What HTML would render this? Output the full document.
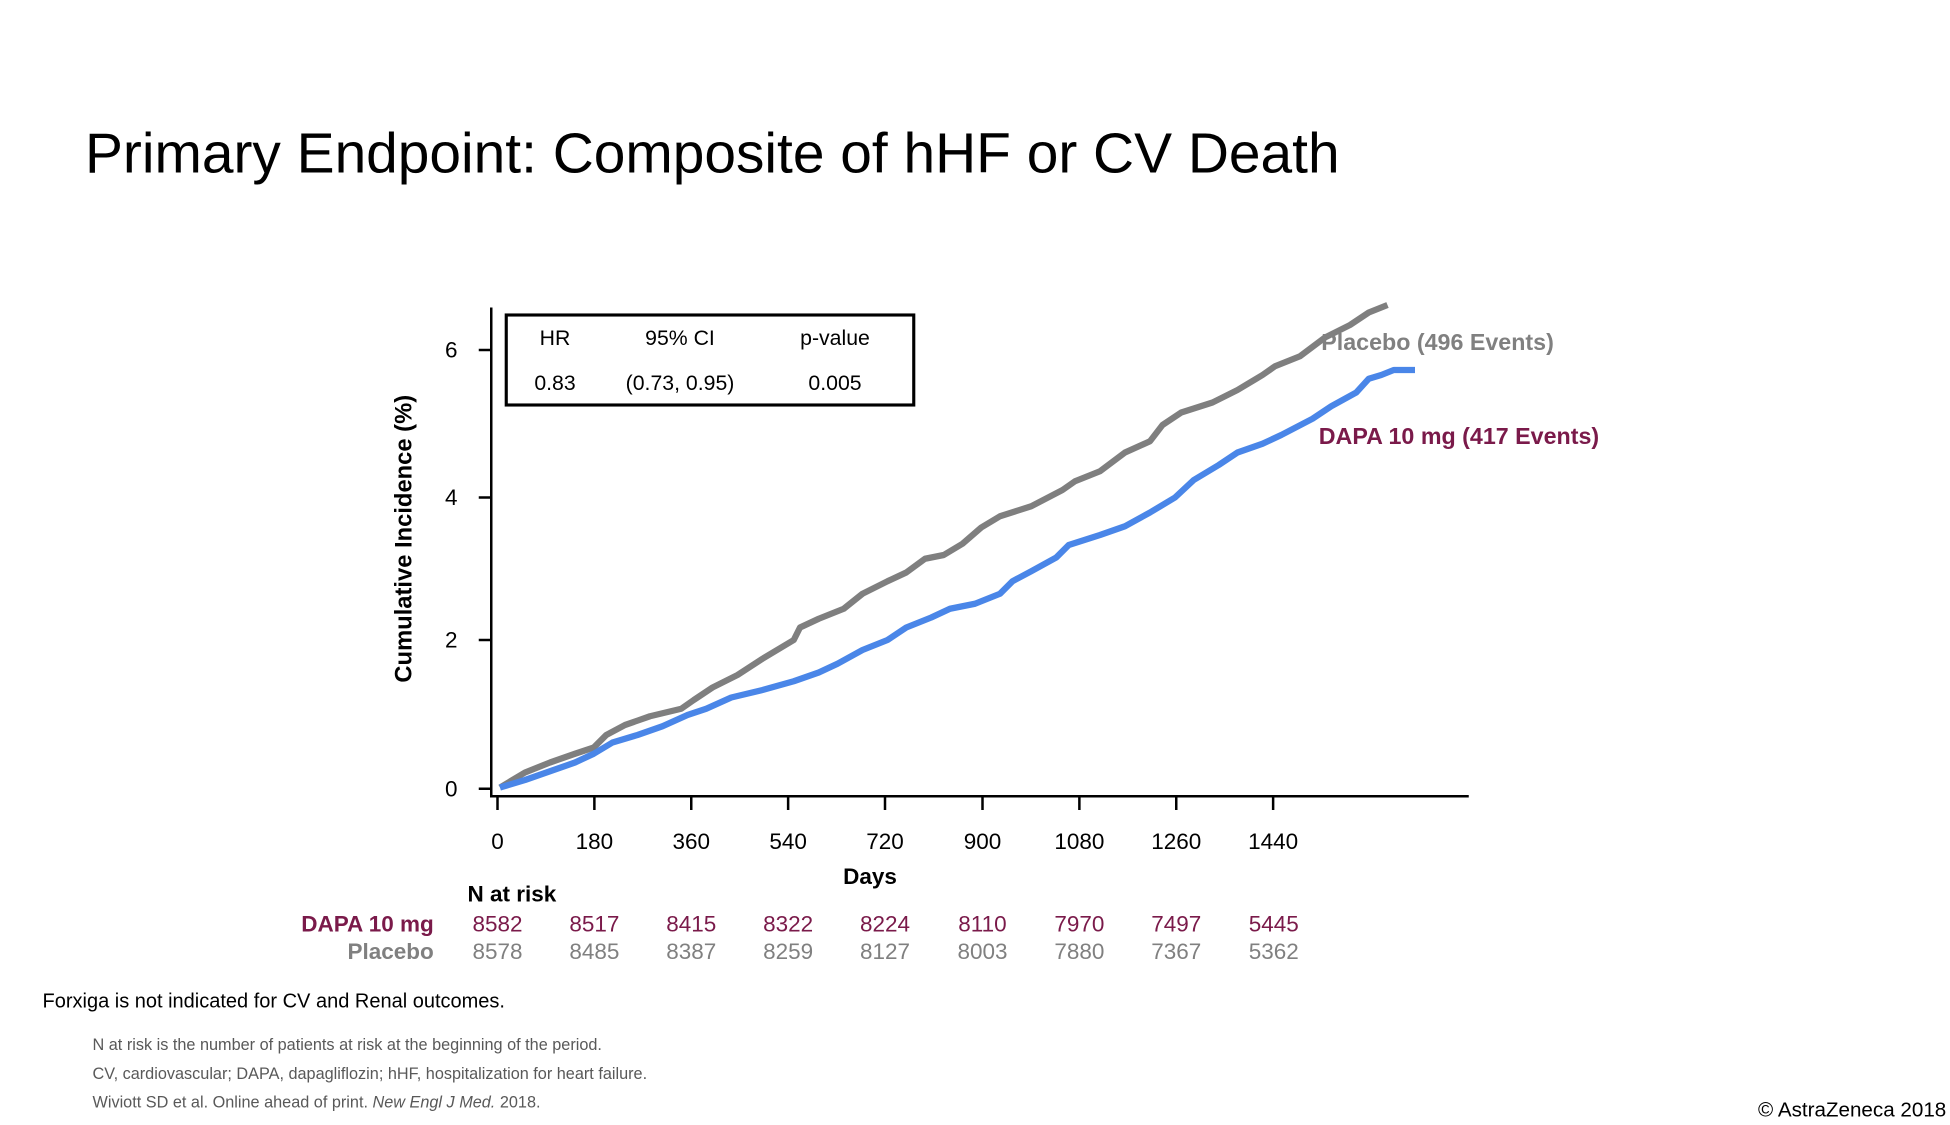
<!DOCTYPE html>
<html><head><meta charset="utf-8"><style>html,body{margin:0;padding:0;background:#fff}svg{display:block}</style></head>
<body>
<svg width="1950" height="1125" viewBox="0 0 1560 900" preserveAspectRatio="none" xmlns="http://www.w3.org/2000/svg" font-family="Liberation Sans, Arial, sans-serif">
<rect width="1560" height="900" fill="#fff"/>
<text x="68" y="138" font-size="45.5" fill="#000">Primary Endpoint: Composite of hHF or CV Death</text>
<g stroke="#000" stroke-width="2" fill="none">
<line x1="393" y1="246" x2="393" y2="638"/>
<line x1="392" y1="637" x2="1175" y2="637"/>
<line x1="383" y1="631" x2="393" y2="631"/>
<line x1="383" y1="512" x2="393" y2="512"/>
<line x1="383" y1="398" x2="393" y2="398"/>
<line x1="383" y1="280" x2="393" y2="280"/>
<line x1="398" y1="637" x2="398" y2="648"/>
<line x1="475.5" y1="637" x2="475.5" y2="648"/>
<line x1="553" y1="637" x2="553" y2="648"/>
<line x1="630.5" y1="637" x2="630.5" y2="648"/>
<line x1="708" y1="637" x2="708" y2="648"/>
<line x1="786" y1="637" x2="786" y2="648"/>
<line x1="863.5" y1="637" x2="863.5" y2="648"/>
<line x1="941" y1="637" x2="941" y2="648"/>
<line x1="1018.5" y1="637" x2="1018.5" y2="648"/>
</g>
<g font-size="18" text-anchor="end" fill="#000">
<text x="366" y="637">0</text><text x="366" y="518">2</text><text x="366" y="404">4</text><text x="366" y="286">6</text>
</g>
<g font-size="18" text-anchor="middle" fill="#000">
<text x="398" y="679">0</text><text x="475.5" y="679">180</text><text x="553" y="679">360</text><text x="630.5" y="679">540</text><text x="708" y="679">720</text><text x="786" y="679">900</text><text x="863.5" y="679">1080</text><text x="941" y="679">1260</text><text x="1018.5" y="679">1440</text>
</g>
<text x="696" y="707" font-size="18" font-weight="bold" text-anchor="middle">Days</text>
<text transform="translate(329,431) rotate(-90)" font-size="19" font-weight="bold" text-anchor="middle">Cumulative Incidence (%)</text>
<rect x="405" y="252" width="326" height="72" fill="#fff" stroke="#000" stroke-width="2.5"/>
<g font-size="17" text-anchor="middle" fill="#000">
<text x="444" y="276">HR</text><text x="544" y="276">95% CI</text><text x="668" y="276">p-value</text>
<text x="444" y="312">0.83</text><text x="544" y="312">(0.73, 0.95)</text><text x="668" y="312">0.005</text>
</g>
<polyline fill="none" stroke="#7f7f7f" stroke-width="5" stroke-linejoin="round" points="400,630 420,618 440,610 460,603 475,598 485,588 500,580 520,573 545,567 555,560 570,550 590,540 610,527 635,512 640,502 655,495 675,487 690,475 710,465 725,458 740,447 755,444 770,435 785,422 800,413 825,405 850,392 860,385 880,377 900,362 920,353 930,340 945,330 970,322 990,312 1010,300 1020,293 1040,285 1060,270 1080,260 1095,250 1110,244"/>
<polyline fill="none" stroke="#4a86e8" stroke-width="5" stroke-linejoin="round" points="400,630 420,624 440,617 460,610 475,603 490,594 510,588 530,581 550,572 565,567 585,558 610,552 635,545 655,538 670,531 690,520 710,512 725,502 745,494 760,487 780,483 800,475 810,465 825,457 845,446 855,436 880,428 900,421 920,410 940,398 955,384 975,372 990,362 1010,355 1025,348 1050,335 1065,325 1085,314 1095,303 1105,300 1115,296 1132,296"/>
<text x="1057" y="280" font-size="18.6" font-weight="bold" fill="#808080">Placebo (496 Events)</text>
<text x="1055" y="355" font-size="18.6" font-weight="bold" fill="#7a1a4a">DAPA 10 mg (417 Events)</text>
<text x="374" y="721" font-size="18" font-weight="bold">N at risk</text>
<text x="347" y="745" font-size="18" font-weight="bold" fill="#7a1a4a" text-anchor="end">DAPA 10 mg</text>
<text x="347" y="767" font-size="18" font-weight="bold" fill="#808080" text-anchor="end">Placebo</text>
<g font-size="18" text-anchor="middle" fill="#7a1a4a">
<text x="398" y="745">8582</text><text x="475.5" y="745">8517</text><text x="553" y="745">8415</text><text x="630.5" y="745">8322</text><text x="708" y="745">8224</text><text x="786" y="745">8110</text><text x="863.5" y="745">7970</text><text x="941" y="745">7497</text><text x="1019" y="745">5445</text>
</g>
<g font-size="18" text-anchor="middle" fill="#808080">
<text x="398" y="767">8578</text><text x="475.5" y="767">8485</text><text x="553" y="767">8387</text><text x="630.5" y="767">8259</text><text x="708" y="767">8127</text><text x="786" y="767">8003</text><text x="863.5" y="767">7880</text><text x="941" y="767">7367</text><text x="1019" y="767">5362</text>
</g>
<text x="34" y="806" font-size="16">Forxiga is not indicated for CV and Renal outcomes.</text>
<g font-size="13" fill="#595959">
<text x="74" y="840">N at risk is the number of patients at risk at the beginning of the period.</text>
<text x="74" y="863">CV, cardiovascular; DAPA, dapagliflozin; hHF, hospitalization for heart failure.</text>
<text x="74" y="886">Wiviott SD et al. Online ahead of print. <tspan font-style="italic">New Engl J Med.</tspan> 2018.</text>
</g>
<text x="1557" y="893" font-size="16.5" text-anchor="end">© AstraZeneca 2018</text>
</svg>
</body></html>
